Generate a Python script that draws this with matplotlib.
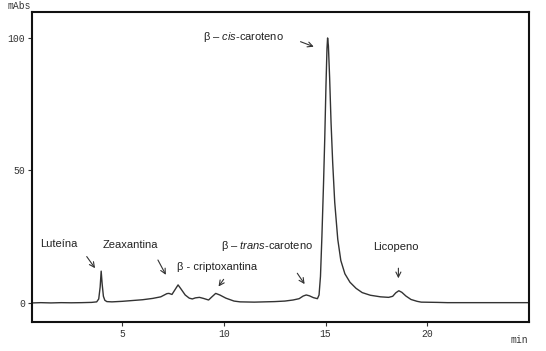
import matplotlib
matplotlib.use("Agg")
import matplotlib.pyplot as plt

plt.rcParams['mathtext.fontset'] = 'custom'
plt.rcParams['mathtext.rm'] = 'Liberation Sans'
plt.rcParams['mathtext.it'] = 'Liberation Sans:italic'

tempo = [0.6, 1.0, 1.5, 2.0, 2.5, 3.0, 3.5, 3.75, 3.85, 3.92, 3.97, 4.02, 4.08, 4.15,
         4.25, 4.5, 5.0, 5.5, 6.0, 6.5, 6.9, 7.2, 7.3, 7.45, 7.6, 7.75, 7.9, 8.1, 8.3,
         8.45, 8.6, 8.8, 9.0, 9.25, 9.4, 9.6, 9.8, 10.1, 10.5, 10.8, 11.5, 12.0, 12.5,
         13.0, 13.4, 13.7, 13.9, 14.05, 14.2, 14.4, 14.6, 14.68, 14.75, 14.82, 14.9,
         14.96, 15.02, 15.07, 15.10, 15.14, 15.2, 15.27, 15.35, 15.45, 15.6, 15.75,
         15.95, 16.2, 16.5, 16.8, 17.2, 17.7, 18.1, 18.3, 18.45, 18.6, 18.75, 18.95,
         19.2, 19.5, 19.7, 20.5, 21.0, 22.0, 23.0, 24.0, 25.0]
sinal = [0.0, 0.1, 0.0, 0.1, 0.05, 0.1, 0.2, 0.4, 1.5, 6.0, 12.0, 7.0, 2.5, 1.0,
         0.5, 0.4, 0.6, 0.9, 1.2, 1.7, 2.3, 3.5, 3.6, 3.2, 5.0, 6.8, 5.2, 3.0, 1.8,
         1.5, 1.9, 2.1, 1.7, 1.1, 2.2, 3.6, 3.0, 1.8, 0.7, 0.4, 0.3, 0.4, 0.5,
         0.7, 1.1, 1.6, 2.6, 3.0, 2.7, 2.0, 1.6, 3.0, 10, 25, 45,
         62, 82, 96, 100, 97, 85, 68, 53, 38, 24, 16,
         11, 7.8, 5.5, 3.9, 2.9, 2.3, 2.1, 2.5, 3.8, 4.6, 4.0, 2.6,
         1.3, 0.6, 0.3, 0.2, 0.1, 0.1, 0.1, 0.1, 0.1]

xticks = [5, 10, 15, 20]
yticks = [0, 50, 100]

# rótulos: (texto, posição do texto, início da seta, ponta da seta, alinhamento)
rotulos = [
    ('Luteína', (1.90, 22.3), (3.26, 17.5), (3.67, 13.1), 'center'),
    ('Zeaxantina', (5.39, 21.9), (6.76, 16.2), (7.15, 10.6), 'center'),
    ('β - criptoxantina', (7.69, 13.7), (9.99, 8.9), (9.74, 6.2), 'left'),
    ('β – $\\mathit{trans}$-caroteno', (9.88, 21.5), (13.61, 11.2), (13.97, 7.1), 'left'),
    ('Licopeno', (17.36, 21.2), (18.58, 13.1), (18.58, 9.3), 'left'),
    ('β – $\\mathit{cis}$-caroteno', (8.99, 100.5), (13.77, 98.6), (14.42, 96.7), 'left'),
]

fig = plt.figure(figsize=(5.46, 3.51), dpi=100)
ax = fig.add_axes([32/546, 1 - 322/351, (529 - 32)/546, (322 - 12)/351])

ax.plot(tempo, sinal, color='#333333', linewidth=1.0)
ax.set_xlim(0.57, 25.0)
ax.set_ylim(-7.2, 109.8)

ax.set_xticks(xticks)
ax.set_yticks(yticks)
for lab in ax.get_xticklabels() + ax.get_yticklabels():
    lab.set_family('Liberation Mono')
    lab.set_fontsize(7)
    lab.set_color('#333333')
ax.tick_params(direction='out', length=3, width=0.8, pad=2, color='#333333')
for s in ax.spines.values():
    s.set_linewidth(1.5)
    s.set_color('#111111')

fig.text(8/546, 1 - 6/351, 'mAbs', family='Liberation Mono', fontsize=7,
         ha='left', va='center', color='#333333')
fig.text(511/546, 1 - 340/351, 'min', family='Liberation Mono', fontsize=7,
         ha='left', va='center', color='#333333')

for texto, pos, ini, fim, ha in rotulos:
    ax.text(pos[0], pos[1], texto, family='Liberation Sans', fontsize=8,
            ha=ha, va='center', color='#222222')
    ax.annotate('', xy=fim, xytext=ini,
                arrowprops=dict(arrowstyle='->', color='#333333', lw=0.8,
                                shrinkA=0, shrinkB=0, mutation_scale=9))

fig.savefig('out.png', dpi=100)
